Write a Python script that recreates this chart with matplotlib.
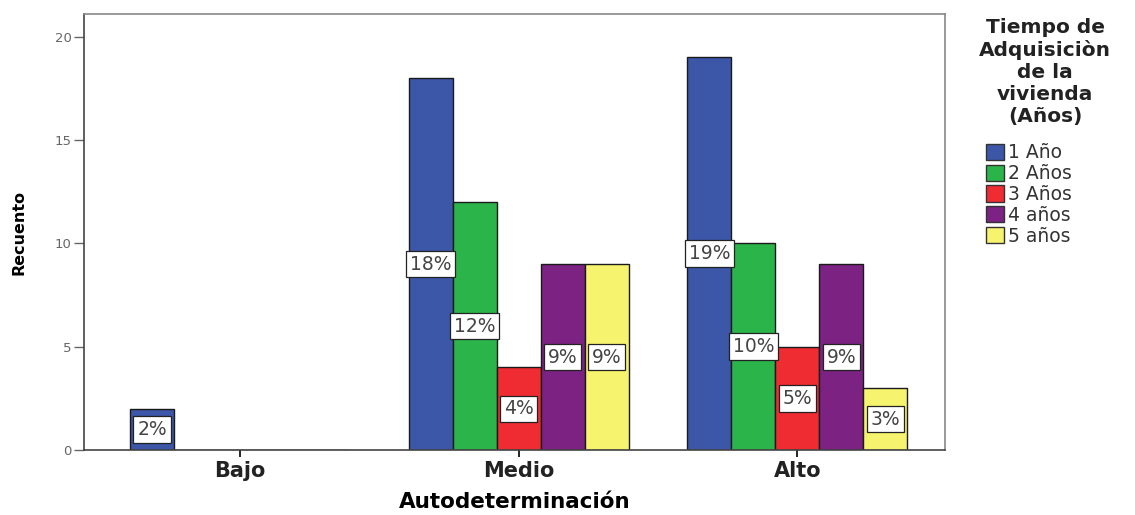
import numpy as np
import matplotlib
matplotlib.use('Agg')
import matplotlib.pyplot as plt
from matplotlib.patches import Patch

plt.rcParams['font.family'] = ['DejaVu Sans']

categories = ['Bajo', 'Medio', 'Alto']
series_labels = ['1 Año', '2 Años', '3 Años', '4 años', '5 años']
counts = {
    '1 Año':  [2, 18, 19],
    '2 Años': [0, 12, 10],
    '3 Años': [0, 4, 5],
    '4 años': [0, 9, 9],
    '5 años': [0, 9, 3],
}
percents = {
    '1 Año':  ['2%', '18%', '19%'],
    '2 Años': ['', '12%', '10%'],
    '3 Años': ['', '4%', '5%'],
    '4 años': ['', '9%', '9%'],
    '5 años': ['', '9%', '3%'],
}
colors = ['#3c56a8', '#2bb44a', '#ee2c32', '#7c2283', '#f6f36e']
legend_title = 'Tiempo de\nAdquisiciòn\nde la\nvivienda\n(Años)'

fig = plt.figure(figsize=(11.35, 5.15), dpi=100)
ax = fig.add_axes([0.074, 0.126, 0.7586, 0.847])

x = np.arange(len(categories))
w = 0.158
for i, lab in enumerate(series_labels):
    pos = x + (i - 2) * w
    vals = counts[lab]
    ax.bar(pos, vals, width=w, color=colors[i], edgecolor='#1a1a1a', linewidth=1.0)
    for p, v, t in zip(pos, vals, percents[lab]):
        if v > 0 and t:
            ax.text(p, v / 2.0, t, ha='center', va='center', fontsize=13.5, color='#444444',
                    bbox=dict(boxstyle='square,pad=0.2', fc='white', ec='#222222', lw=0.9))

ax.set_xlim(-0.56, 2.53)
ax.set_ylim(0, 21.1)
ax.set_yticks([0, 5, 10, 15, 20])
ax.set_xticks(x)
ax.set_xticklabels(categories, fontsize=15, fontweight='bold', color='#222222')
ax.tick_params(axis='y', labelsize=9.5, colors='#666666', length=7, width=1, pad=2)
ax.tick_params(axis='x', length=5, width=1.2, pad=3)
for s in ax.spines.values():
    s.set_color('#888888')
    s.set_linewidth(1.2)
ax.spines['left'].set_color('#444444')
ax.spines['bottom'].set_color('#444444')

ax.set_xlabel('Autodeterminación', fontsize=15.5, fontweight='bold', labelpad=8)
ax.set_ylabel('Recuento', fontsize=11.5, fontweight='bold', labelpad=20)

fig.text(0.921, 0.965, legend_title, ha='center', va='top', fontsize=14.5,
         fontweight='bold', color='#222222', linespacing=1.2)

handles = [Patch(facecolor=c, edgecolor='#333333', label=l) for c, l in zip(colors, series_labels)]
leg = fig.legend(handles=handles, loc='upper left', bbox_to_anchor=(0.869, 0.722),
                 frameon=False, fontsize=13.5, handlelength=0.95, handleheight=0.95,
                 handletextpad=0.2, labelspacing=0.1, borderpad=0.0, borderaxespad=0.0)
for t in leg.get_texts():
    t.set_color('#333333')

fig.savefig('out.png', dpi=100)
